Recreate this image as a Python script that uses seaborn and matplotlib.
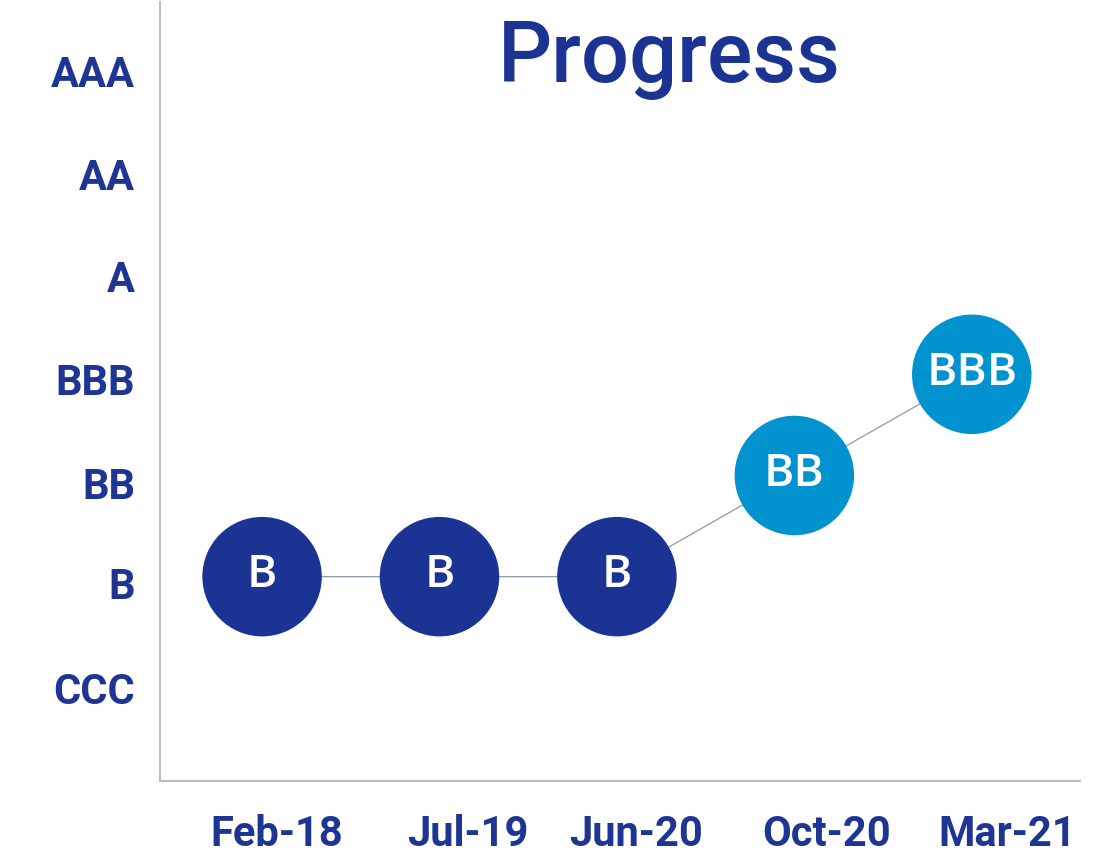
import pandas as pd
import matplotlib
matplotlib.use("Agg")
import matplotlib.pyplot as plt
import seaborn as sns

# data
dates = ["Feb-18", "Jul-19", "Jun-20", "Oct-20", "Mar-21"]
ratings = ["B", "B", "B", "BB", "BBB"]
scale = ["CCC", "B", "BB", "BBB", "A", "AA", "AAA"]

dark = "#1b3494"
light = "#0093d0"
palette = {"B": dark, "BB": light, "BBB": light}

df = pd.DataFrame({"date": dates, "rating": ratings})
df["x"] = range(len(df))
df["level"] = df["rating"].map(scale.index)

sns.set_style("white")
plt.rcParams["font.family"] = ["Roboto", "DejaVu Sans"]

fig = plt.figure(figsize=(10.97, 8.53), dpi=100)
ax = fig.add_axes([0.1459, 0.0832, 0.8386, 0.9133])

sns.lineplot(data=df, x="x", y="level", color="#8a9ab0", linewidth=0.9, ax=ax, zorder=1)
sns.scatterplot(data=df, x="x", y="level", hue="rating", palette=palette, s=7400,
                linewidth=0, legend=False, ax=ax, zorder=2)

for _, row in df.iterrows():
    ax.text(row["x"], row["level"] + 0.02, row["rating"], color="white", fontsize=33,
            ha="center", va="center", family=["Open Sans", "DejaVu Sans"],
            fontweight=600, zorder=3)

ax.set_xlim(-0.575, 4.61)
ax.set_ylim(-1.02, 6.68)

# tick labels sit a little off the points in the original
ax.set_xticks([0.08, 1.16, 2.11, 3.18, 4.2])
ax.set_xticklabels(dates)
ax.set_yticks([-0.09, 0.95, 1.94, 2.96, 3.98, 4.99, 6.01])
ax.set_yticklabels(scale)
ax.tick_params(axis="both", length=0, labelsize=30, labelcolor="#1e3593")
ax.tick_params(axis="x", pad=23)
ax.tick_params(axis="y", pad=18)
for lab in ax.get_xticklabels() + ax.get_yticklabels():
    lab.set_fontweight("bold")
ax.set_xlabel("")
ax.set_ylabel("")

for side in ["top", "right"]:
    ax.spines[side].set_visible(False)
for side in ["left", "bottom"]:
    ax.spines[side].set_color("#b3bfcf")
    ax.spines[side].set_linewidth(1.5)

fig.text(669 / 1097, (853 - 82) / 853, "Progress", ha="center", va="baseline",
         fontsize=61, color="#1b3494", fontweight="medium")

fig.savefig("out.png", dpi=100)
